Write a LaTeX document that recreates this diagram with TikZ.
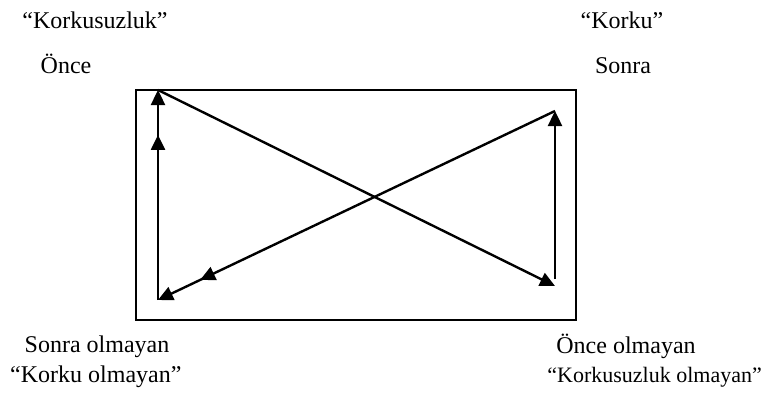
\documentclass[tikz,border=0pt]{standalone}
\usepackage{fontspec}
\setmainfont{Liberation Serif}
\usetikzlibrary{arrows.meta,decorations.markings}
\tikzset{
  lbl/.style={inner sep=0pt, anchor=base, font=\fontsize{24}{28}\selectfont},
  frame/.style={draw=black, line width=1.5pt},
  flow/.style={line width=2.4pt, -{Triangle[length=15pt,width=14pt]}},
  midarrow/.style={postaction={decorate}, decoration={markings,
    mark=at position #1 with {\arrow{Triangle[length=15pt,width=14pt]}}}}
}
\begin{document}
\begin{tikzpicture}[x=1pt,y=-1pt]
  \useasboundingbox (0,0) rectangle (768,407);

  % --- frame ---
  \draw[frame] (136,90) rectangle (576,320);

  % --- corners ---
  \coordinate (tl) at (158,90);
  \coordinate (bl) at (158,300);
  \coordinate (tr) at (555,111);
  \coordinate (br) at (555,286);
  \coordinate (rbot) at (555,279);

  % --- labels ---
  \node[lbl] (korkusuzluk) at (95,28) {``Korkusuzluk''};
  \node[lbl] (once) at (66,73) {Önce};
  \node[lbl] (korku) at (622,28) {``Korku''};
  \node[lbl] (sonra) at (623,73) {Sonra};
  \node[lbl] (sonrao) at (97,352) {Sonra olmayan};
  \node[lbl, anchor=base west] (korkuo) at (10,382) {``Korku olmayan''};
  \node[lbl] (onceo) at (626,353) {Önce olmayan};
  \node[lbl, anchor=base east, font=\fontsize{22}{26}\selectfont] (korkusuzo)
       at (762,382) {``Korkusuzluk olmayan''};

  % --- arrows ---
  \draw[flow, midarrow=0.786] (bl) -- (tl);
  \draw[flow] (tl) -- (br);
  \draw[flow] (rbot) -- (tr);
  \draw[flow, midarrow=0.894] (tr) -- (bl);

\end{tikzpicture}
\end{document}
